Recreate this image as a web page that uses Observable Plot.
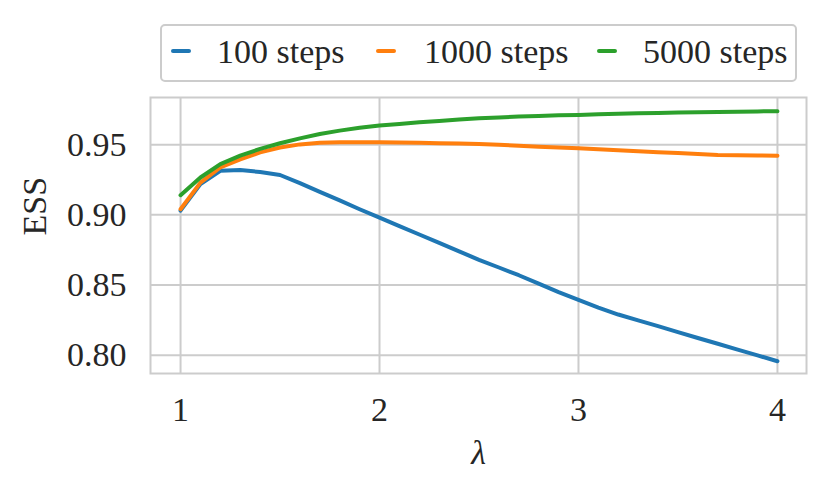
<!DOCTYPE html>
<html>
<head>
<meta charset="utf-8">
<script src="https://cdn.jsdelivr.net/npm/d3@7"></script>
<script src="https://cdn.jsdelivr.net/npm/@observablehq/plot@0.6"></script>
<style>
  html, body { margin: 0; padding: 0; background: #fff; }
  #wrap { position: relative; width: 831px; height: 495px; font-family: 'Liberation Serif', 'DejaVu Serif', serif; }
  #legend { position: absolute; left: 160px; top: 24px; width: 633px; height: 54px;
    border: 2px solid #cccccc; border-radius: 5px; background: #fff; box-sizing: content-box; }
  .sw { position: absolute; height: 4px; border-radius: 2px; top: 23px; }
  .lab { position: absolute; top: 6px; font-size: 34px; color: #262626; line-height: 40px; white-space: nowrap;
    font-family: 'Liberation Serif', 'DejaVu Serif', serif; }
</style>
</head>
<body>
<div id="wrap"></div>
<script>
const lambdas = [1.0,1.1,1.2,1.3,1.4,1.5,1.6,1.7,1.8,1.9,2.0,2.1,2.2,2.3,2.4,2.5,2.6,2.7,2.8,2.9,3.0,3.1,3.2,3.3,3.4,3.5,3.6,3.7,3.8,3.9,4.0];
const ess100 = [0.903,0.922,0.9314,0.932,0.9305,0.9284,0.9226,0.9164,0.9103,0.904,0.898,0.892,0.886,0.880,0.874,0.868,0.8625,0.857,0.851,0.845,0.8395,0.834,0.829,0.8248,0.8207,0.8165,0.8123,0.8082,0.804,0.7999,0.7957];
const ess1000 = [0.904,0.923,0.9338,0.9395,0.9445,0.948,0.9502,0.9513,0.9517,0.9518,0.9518,0.9516,0.9514,0.9511,0.9508,0.9505,0.9499,0.9493,0.9486,0.948,0.9474,0.9467,0.946,0.9453,0.9446,0.944,0.9433,0.9426,0.9425,0.9423,0.9421];
const ess5000 = [0.914,0.9266,0.9362,0.9422,0.947,0.951,0.9545,0.9576,0.96,0.962,0.9636,0.9648,0.9659,0.9669,0.9679,0.9688,0.9694,0.97,0.9705,0.9709,0.9712,0.9716,0.972,0.9723,0.9726,0.9729,0.9731,0.9733,0.9735,0.9737,0.9738];
const seriesNames = ["100 steps", "1000 steps", "5000 steps"];
const seriesColors = ["#1f77b4", "#ff7f0e", "#2ca02c"];
const xTicks = [1, 2, 3, 4];
const yTicks = [0.80, 0.85, 0.90, 0.95];

const seriesValues = [ess100, ess1000, ess5000];
const data = [];
seriesNames.forEach((name, i) => {
  lambdas.forEach((l, j) => data.push({lambda: l, ess: seriesValues[i][j], series: name}));
});

const serif = "'Liberation Serif', 'DejaVu Serif', serif";

const chart = Plot.plot({
  width: 831,
  height: 495,
  marginLeft: 150,
  marginRight: 25,
  marginTop: 97,
  marginBottom: 122,
  style: {fontFamily: serif, fontSize: "34px", color: "#262626", background: "#fff"},
  x: {domain: [0.849, 4.146]},
  y: {domain: [0.787, 0.9836]},
  color: {domain: seriesNames, range: seriesColors},
  marks: [
    Plot.gridX(xTicks, {stroke: "#cccccc", strokeOpacity: 1, strokeWidth: 2}),
    Plot.gridY(yTicks, {stroke: "#cccccc", strokeOpacity: 1, strokeWidth: 2}),
    Plot.frame({stroke: "#cccccc", strokeWidth: 2}),
    Plot.axisX(xTicks, {tickSize: 0, tickPadding: 23, fontSize: 34, fontFamily: serif, label: null, tickFormat: d => String(d)}),
    Plot.axisY(yTicks, {tickSize: 0, tickPadding: 24, fontSize: 34, fontFamily: serif, label: null, tickFormat: d3.format(".2f")}),
    Plot.line(data, {x: "lambda", y: "ess", z: "series", stroke: "series", strokeWidth: 4, strokeLinecap: "round", strokeLinejoin: "round"}),
    Plot.text(["ESS"], {frameAnchor: "left", dx: -115, rotate: -90, fontSize: 34, fontFamily: serif, fill: "#262626"}),
    Plot.text(["λ"], {frameAnchor: "bottom", dy: 90, fontSize: 34, fontFamily: serif, fontStyle: "italic", fill: "#262626"})
  ]
});

const wrap = document.getElementById("wrap");
wrap.appendChild(chart);
chart.style.position = "absolute";
chart.style.left = "0px";
chart.style.top = "0px";

const legend = document.createElement("div");
legend.id = "legend";
const swX = [9, 214, 435];
const labX = [55, 262, 481];
seriesNames.forEach((name, i) => {
  const sw = document.createElement("div");
  sw.className = "sw";
  sw.style.left = swX[i] + "px";
  sw.style.width = "20px";
  sw.style.background = seriesColors[i];
  legend.appendChild(sw);
  const lab = document.createElement("div");
  lab.className = "lab";
  lab.style.left = labX[i] + "px";
  lab.textContent = name;
  legend.appendChild(lab);
});
wrap.appendChild(legend);
</script>
</body>
</html>
